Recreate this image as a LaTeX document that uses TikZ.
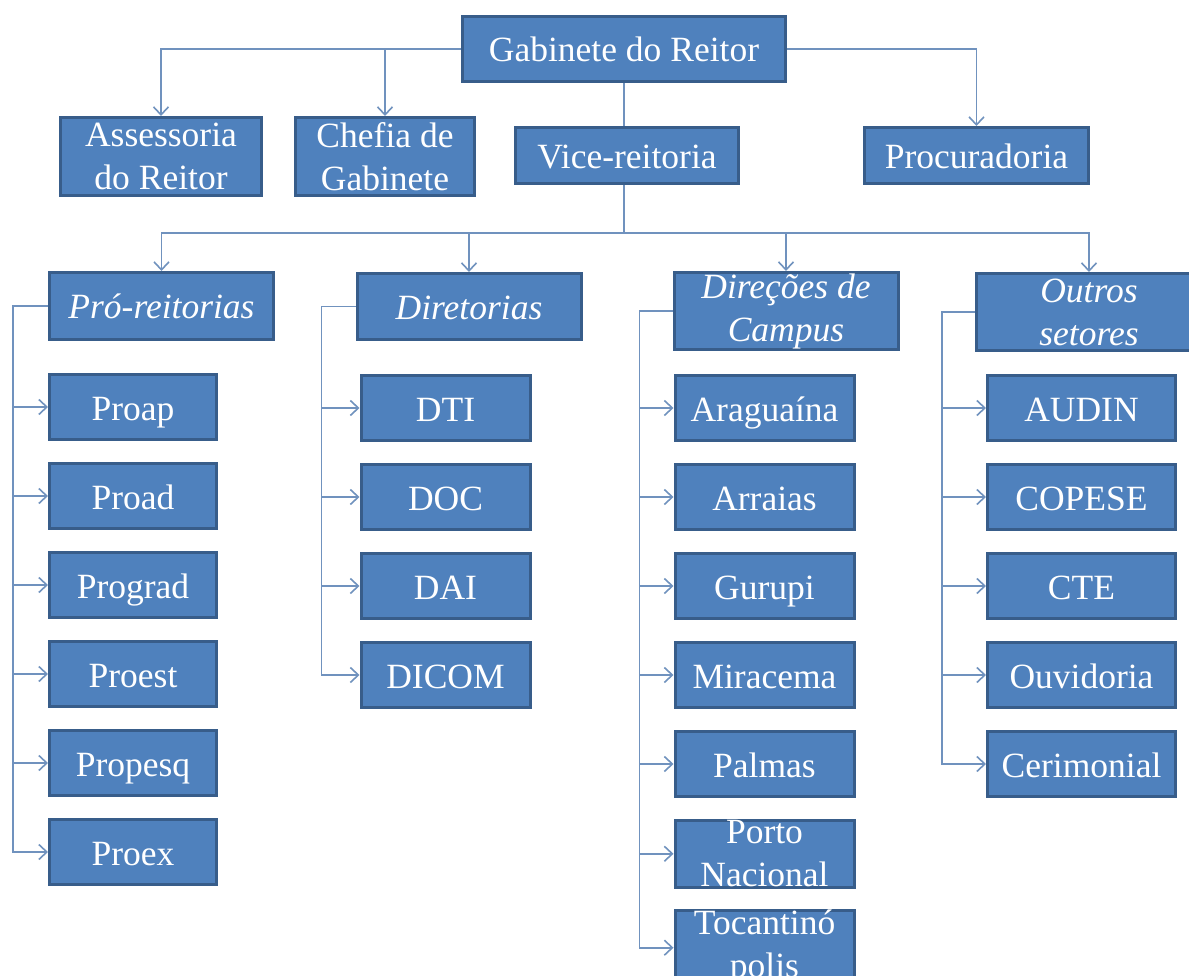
\documentclass[tikz,border=0pt]{standalone}
\usepackage{fontspec}
\setmainfont{Liberation Serif}
\usetikzlibrary{positioning,arrows.meta}

\definecolor{boxBlue}{HTML}{4F81BD}
\definecolor{boxEdge}{HTML}{385D8A}
\definecolor{linkBlue}{HTML}{7092BE}

\begin{document}
\begin{tikzpicture}[x=1pt, y=-1pt,
    baseBox/.style={rectangle, draw=boxEdge, line width=3pt, fill=boxBlue, text=white,
      align=center, inner xsep=2pt, inner ysep=0pt, minimum height=65pt,
      font=\fontsize{35.5}{43}\selectfont},
    oneLine/.style={text height=28pt, text depth=2pt},
    unitBox/.style={baseBox, oneLine},
    groupBox/.style={baseBox, minimum width=224pt, font=\fontsize{35.5}{43}\selectfont\itshape},
    proBox/.style={unitBox, minimum width=167pt},
    dirBox/.style={unitBox, minimum width=169pt},
    campusBox/.style={unitBox, minimum width=179pt},
    campusTwo/.style={baseBox, minimum width=179pt},
    otherBox/.style={unitBox, minimum width=188pt},
    link/.style={draw=linkBlue, line width=1.6pt},
    linkTo/.style={link, -{Straight Barb[length=8pt, width=15pt]}}]

        \path[use as bounding box, fill=white] (0,0) rectangle (1189,976);

        % topo
        \node[unitBox, minimum width=323pt] (gabNode) at (624, 49) {Gabinete do Reitor};
        \node[baseBox, minimum width=201pt, minimum height=78pt] (assNode) at (161, 156.5) {Assessoria\\do Reitor};
        \node[baseBox, minimum width=179pt, minimum height=78pt] (chefNode) at (385, 156.5) {Chefia de\\Gabinete};
        \node[unitBox, minimum width=223pt, minimum height=56pt] (viceNode) at (627, 155.5) {Vice-reitoria};
        \node[unitBox, minimum width=224pt, minimum height=56pt] (procNode) at (976.5, 155.5) {Procuradoria};
        \coordinate (busPoint) at (624, 233);

        % grupos
        \node[groupBox, oneLine, minimum height=67pt] (proNode) at (161.5, 306) {Pró-reitorias};
        \node[groupBox, oneLine, minimum height=66pt] (dirNode) at (469, 306.5) {Diretorias};
        \node[groupBox, minimum height=77pt] (campusNode) at (786, 311) {Direções de\\Campus};
        \node[groupBox, minimum height=77pt, minimum width=225pt] (otherNode) at (1089, 312) {Outros\\setores};

        % pró-reitorias
        \node[proBox] (proapNode) [below right=32pt and 0pt of proNode.south west] {Proap};
        \node[proBox] (proadNode) [below=21pt of proapNode] {Proad};
        \node[proBox] (progradNode) [below=21pt of proadNode] {Prograd};
        \node[proBox] (proestNode) [below=21pt of progradNode] {Proest};
        \node[proBox] (propesqNode) [below=21pt of proestNode] {Propesq};
        \node[proBox] (proexNode) [below=21pt of propesqNode] {Proex};

        % diretorias
        \node[dirBox] (dtiNode) [below right=33pt and 4pt of dirNode.south west] {DTI};
        \node[dirBox] (docNode) [below=21pt of dtiNode] {DOC};
        \node[dirBox] (daiNode) [below=21pt of docNode] {DAI};
        \node[dirBox] (dicomNode) [below=21pt of daiNode] {DICOM};

        % campi
        \node[campusBox] (aragNode) [below right=23pt and 1pt of campusNode.south west] {Araguaína};
        \node[campusBox] (arraiasNode) [below=21pt of aragNode] {Arraias};
        \node[campusBox] (gurupiNode) [below=21pt of arraiasNode] {Gurupi};
        \node[campusBox] (miracemaNode) [below=21pt of gurupiNode] {Miracema};
        \node[campusBox] (palmasNode) [below=21pt of miracemaNode] {Palmas};
        \node[campusTwo] (portoNode) [below=21pt of palmasNode] {Porto\\Nacional};
        \node[campusTwo] (tocNode) [below=20pt of portoNode] {Tocantinó\\polis};

        % outros setores
        \node[otherBox] (audinNode) [below right=22pt and 11pt of otherNode.south west] {AUDIN};
        \node[otherBox] (copeseNode) [below=21pt of audinNode] {COPESE};
        \node[otherBox] (cteNode) [below=21pt of copeseNode] {CTE};
        \node[otherBox] (ouviNode) [below=21pt of cteNode] {Ouvidoria};
        \node[otherBox] (ceriNode) [below=21pt of ouviNode] {Cerimonial};

        \draw[linkTo] (gabNode.west) -| (assNode.north);
        \draw[linkTo] (gabNode.west) -| (chefNode.north);
        \draw[linkTo] (gabNode.east) -| (procNode.north);
        \draw[link] (gabNode.south) -- (gabNode.south |- viceNode.north);
        \draw[link] (gabNode.south |- viceNode.south) -- (busPoint);
        \draw[linkTo] (busPoint) -| (proNode.north);
        \draw[linkTo] (busPoint) -| (dirNode.north);
        \draw[linkTo] (busPoint) -| (campusNode.north);
        \draw[linkTo] (busPoint) -| (otherNode.north);

        \draw[linkTo] (proNode.west) -- ++(-35pt,0) |- (proapNode.west);
        \draw[linkTo] (proNode.west) -- ++(-35pt,0) |- (proadNode.west);
        \draw[linkTo] (proNode.west) -- ++(-35pt,0) |- (progradNode.west);
        \draw[linkTo] (proNode.west) -- ++(-35pt,0) |- (proestNode.west);
        \draw[linkTo] (proNode.west) -- ++(-35pt,0) |- (propesqNode.west);
        \draw[linkTo] (proNode.west) -- ++(-35pt,0) |- (proexNode.west);

        \draw[linkTo] (dirNode.west) -- ++(-34pt,0) |- (dtiNode.west);
        \draw[linkTo] (dirNode.west) -- ++(-34pt,0) |- (docNode.west);
        \draw[linkTo] (dirNode.west) -- ++(-34pt,0) |- (daiNode.west);
        \draw[linkTo] (dirNode.west) -- ++(-34pt,0) |- (dicomNode.west);

        \draw[linkTo] (campusNode.west) -- ++(-33pt,0) |- (aragNode.west);
        \draw[linkTo] (campusNode.west) -- ++(-33pt,0) |- (arraiasNode.west);
        \draw[linkTo] (campusNode.west) -- ++(-33pt,0) |- (gurupiNode.west);
        \draw[linkTo] (campusNode.west) -- ++(-33pt,0) |- (miracemaNode.west);
        \draw[linkTo] (campusNode.west) -- ++(-33pt,0) |- (palmasNode.west);
        \draw[linkTo] (campusNode.west) -- ++(-33pt,0) |- (portoNode.west);
        \draw[linkTo] (campusNode.west) -- ++(-33pt,0) |- (tocNode.west);

        \draw[linkTo] (otherNode.west) -- ++(-33pt,0) |- (audinNode.west);
        \draw[linkTo] (otherNode.west) -- ++(-33pt,0) |- (copeseNode.west);
        \draw[linkTo] (otherNode.west) -- ++(-33pt,0) |- (cteNode.west);
        \draw[linkTo] (otherNode.west) -- ++(-33pt,0) |- (ouviNode.west);
        \draw[linkTo] (otherNode.west) -- ++(-33pt,0) |- (ceriNode.west);
      \end{tikzpicture}
\end{document}
